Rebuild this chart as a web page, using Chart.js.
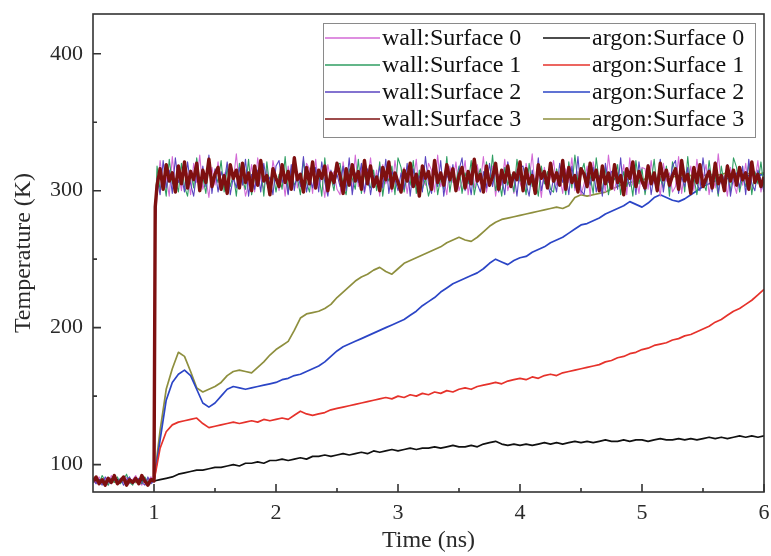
<!DOCTYPE html>
<html>
<head>
<meta charset="utf-8">
<title>Temperature vs Time</title>
<script src="https://cdn.jsdelivr.net/npm/chart.js@4.4.1/dist/chart.umd.min.js"></script>
<style>
  html, body { margin: 0; padding: 0; background: #fff; }
  #chart { display: block; }
</style>
</head>
<body>
<canvas id="chart" width="771" height="556" style="width:771px;height:556px"></canvas>
<script>
// Time axis for the wall thermostat traces (ns)
const wallTime = [
  0.5,0.525,0.55,0.575,0.6,0.625,0.65,0.675,0.7,0.725,0.75,0.775,0.8,0.825,0.85,0.875,0.9,0.925,0.95,0.975,1.0,
  1.01,
  1.025,1.05,1.075,1.1,1.125,1.15,1.175,1.2,1.225,1.25,1.275,1.3,1.325,1.35,1.375,1.4,1.425,1.45,1.475,1.5,
  1.525,1.55,1.575,1.6,1.625,1.65,1.675,1.7,1.725,1.75,1.775,1.8,1.825,1.85,1.875,1.9,1.925,1.95,1.975,2.0,
  2.025,2.05,2.075,2.1,2.125,2.15,2.175,2.2,2.225,2.25,2.275,2.3,2.325,2.35,2.375,2.4,2.425,2.45,2.475,2.5,
  2.525,2.55,2.575,2.6,2.625,2.65,2.675,2.7,2.725,2.75,2.775,2.8,2.825,2.85,2.875,2.9,2.925,2.95,2.975,3.0,
  3.025,3.05,3.075,3.1,3.125,3.15,3.175,3.2,3.225,3.25,3.275,3.3,3.325,3.35,3.375,3.4,3.425,3.45,3.475,3.5,
  3.525,3.55,3.575,3.6,3.625,3.65,3.675,3.7,3.725,3.75,3.775,3.8,3.825,3.85,3.875,3.9,3.925,3.95,3.975,4.0,
  4.025,4.05,4.075,4.1,4.125,4.15,4.175,4.2,4.225,4.25,4.275,4.3,4.325,4.35,4.375,4.4,4.425,4.45,4.475,4.5,
  4.525,4.55,4.575,4.6,4.625,4.65,4.675,4.7,4.725,4.75,4.775,4.8,4.825,4.85,4.875,4.9,4.925,4.95,4.975,5.0,
  5.025,5.05,5.075,5.1,5.125,5.15,5.175,5.2,5.225,5.25,5.275,5.3,5.325,5.35,5.375,5.4,5.425,5.45,5.475,5.5,
  5.525,5.55,5.575,5.6,5.625,5.65,5.675,5.7,5.725,5.75,5.775,5.8,5.825,5.85,5.875,5.9,5.925,5.95,5.975,6.0
];

// Wall surface temperatures (K)
const wall0 = [
  89,86,91,87,90,85,92,88,86,90,87,91,86,89,92,87,85,90,88,91,88,
  275,
  298,322,305,310,296,325,303,314,300,318, 312,297,320,306,326,301,309,295,317,304,
  321,300,313,298,315,307,327,302,311,296, 305,319,299,324,308,301,316,297,322,310,
  300,314,296,318,305,325,302,311,299,320, 316,298,323,304,310,295,319,307,314,301,
  297,321,306,312,300,326,303,317,298,309, 324,302,315,296,319,305,311,299,322,306,
  301,317,298,313,307,323,296,310,304,320, 315,299,326,303,309,297,318,306,321,300,
  307,322,297,314,302,319,305,325,299,311, 318,296,312,304,323,300,309,298,316,306,
  299,320,307,327,301,313,295,317,303,310, 322,304,311,298,316,306,324,300,314,297,
  305,318,296,321,309,302,315,299,326,307, 300,313,306,319,297,324,304,311,298,317,
  316,301,322,305,310,296,320,307,313,299, 303,325,298,314,306,318,300,323,304,309,
  319,297,312,302,327,305,311,296,317,306, 298,315,304,320,300,313,307,322,299,311
];
const wall1 = [
  87,90,86,92,88,85,90,87,91,86,89,93,87,85,90,88,86,91,87,89,88,
  282,
  318,300,311,296,323,305,309,299,320,303, 296,315,302,324,307,310,298,319,305,313,
  306,322,299,317,303,312,296,320,308,301, 323,297,310,305,318,296,321,302,314,299,
  312,301,325,298,316,304,309,297,322,306, 299,318,305,313,296,324,302,310,300,319,
  320,304,297,316,309,301,323,298,312,305, 302,315,300,321,296,313,307,318,297,324,
  317,299,312,304,322,298,315,301,309,296, 305,320,297,310,301,325,299,314,306,318,
  298,313,305,322,297,309,316,300,321,303, 326,300,310,296,317,304,312,299,323,307,
  311,297,320,303,309,296,318,305,314,301, 299,316,304,312,297,321,302,326,306,313,
  320,302,311,298,324,306,300,317,297,310, 308,319,297,314,303,311,296,322,305,316,
  297,312,306,323,299,309,302,318,296,321, 313,304,317,299,325,301,310,297,315,306,
  300,322,305,311,296,318,304,313,299,324, 317,299,310,303,320,297,314,305,321,302
];
const wall2 = [
  90,86,89,85,91,88,86,92,87,90,85,89,91,86,88,90,87,85,91,86,88,
  270,
  309,297,322,302,315,298,324,306,311,299, 321,305,296,313,300,318,303,326,298,316,
  299,314,306,321,297,310,302,317,304,323, 296,312,301,315,299,320,305,310,297,318,
  322,306,311,297,319,300,314,303,325,299, 310,302,317,299,321,306,296,315,304,312,
  303,318,300,324,297,313,306,320,299,316, 297,311,305,318,302,323,298,314,308,300,
  313,301,320,296,316,304,311,299,325,305, 298,317,303,322,296,312,306,319,300,315,
  324,300,311,297,318,305,299,314,302,320, 303,316,299,310,297,321,306,313,296,317,
  318,305,296,315,302,324,300,311,305,297, 309,299,320,306,313,297,318,302,325,300,
  297,313,304,317,299,311,296,320,306,314, 315,301,324,298,310,303,316,297,321,305,
  300,319,297,312,306,323,299,314,302,318, 322,298,310,303,317,297,313,305,300,324,
  305,316,299,321,298,312,307,319,296,310, 313,302,318,297,323,305,300,315,308,299
];
const wall3 = [
  88,91,86,89,85,90,87,92,86,88,91,85,89,87,90,86,92,88,85,89,88,
  288,
  304,316,301,319,307,313,299,318,305,321, 302,314,308,320,300,315,306,323,303,312,
  317,301,311,298,319,309,315,302,320,306, 313,300,318,304,322,307,311,297,316,309,
  303,319,306,314,301,324,308,312,299,317, 305,321,302,315,309,318,300,313,306,320,
  311,298,316,304,319,307,314,301,322,305, 318,303,310,300,317,308,321,302,313,306,
  299,315,307,320,303,312,296,318,309,314, 301,322,306,313,304,319,308,316,300,311,
  317,302,314,305,323,307,312,299,318,304, 310,320,301,315,306,318,303,313,308,321,
  300,316,305,311,298,319,309,314,302,320, 307,313,304,322,301,317,306,311,299,316,
  312,303,320,308,315,300,318,305,313,302, 319,306,311,297,316,309,321,303,314,307,
  302,318,305,313,300,320,308,315,304,311, 316,301,322,307,312,298,317,306,319,303,
  309,314,302,320,305,311,300,318,307,315, 304,317,308,313,301,321,306,312,303,310
];

// Time axis for the argon layer traces (ns)
const argonTime = [
  0.5,0.55,0.6,0.65,0.7,0.75,0.8,0.85,0.9,0.95,1.0,
  1.05,1.1,1.15,1.2,1.25,1.3,1.35,1.4,1.45,1.5,1.55,1.6,1.65,1.7,1.75,1.8,1.85,1.9,1.95,2.0,
  2.05,2.1,2.15,2.2,2.25,2.3,2.35,2.4,2.45,2.5,2.55,2.6,2.65,2.7,2.75,2.8,2.85,2.9,2.95,3.0,
  3.05,3.1,3.15,3.2,3.25,3.3,3.35,3.4,3.45,3.5,3.55,3.6,3.65,3.7,3.75,3.8,3.85,3.9,3.95,4.0,
  4.05,4.1,4.15,4.2,4.25,4.3,4.35,4.4,4.45,4.5,4.55,4.6,4.65,4.7,4.75,4.8,4.85,4.9,4.95,5.0,
  5.05,5.1,5.15,5.2,5.25,5.3,5.35,5.4,5.45,5.5,5.55,5.6,5.65,5.7,5.75,5.8,5.85,5.9,5.95,6.0
];

// Argon temperatures per surface (K)
const argon0 = [
  88,89,87,88,89,88,87,89,88,87,88,
  89,90,91,93,94,95,96,96,97,98, 98,99,100,99,101,101,102,101,103,103,
  104,103,104,105,104,106,106,107,106,107, 108,107,108,109,108,110,109,110,111,110,
  111,112,111,112,112,113,112,113,114,113, 113,114,113,115,116,117,115,114,115,114,
  115,114,115,116,115,116,115,116,117,116, 117,116,117,118,117,117,118,117,118,118,
  117,118,119,118,118,119,118,119,118,119, 120,119,120,119,120,121,120,121,120,121
];
const argon1 = [
  88,87,89,88,87,88,89,88,87,88,88,
  112,124,129,131,132,133,134,130,127,128, 129,130,131,130,131,132,131,133,132,133,
  134,133,136,139,137,136,137,138,140,141, 142,143,144,145,146,147,148,149,148,150,
  149,151,150,152,151,153,152,154,153,155, 156,155,157,158,159,160,159,161,162,163,
  162,164,163,165,166,165,167,168,169,170, 171,172,173,175,176,178,179,181,182,184,
  185,187,188,189,191,192,194,195,197,199, 201,204,206,209,212,214,217,220,224,228
];
const argon2 = [
  89,88,87,88,89,87,88,88,89,87,88,
  118,147,160,166,169,165,155,145,142,145, 150,155,157,156,155,156,157,158,159,160,
  162,163,165,166,168,170,172,175,179,183, 186,188,190,192,194,196,198,200,202,204,
  206,209,212,216,219,222,226,229,232,234, 236,238,240,243,247,250,248,246,249,251,
  252,255,257,259,262,264,266,269,272,275, 276,278,280,283,285,287,289,292,290,288,
  291,295,297,295,293,292,294,297,300,303, 305,307,308,309,310,311,310,312,311,312
];
const argon3 = [
  87,88,89,88,87,89,88,87,88,89,88,
  125,155,170,182,179,168,156,153,155,157, 160,165,168,169,168,167,171,175,180,184,
  187,190,198,207,210,211,212,214,217,222, 226,230,234,237,239,242,244,241,239,243,
  247,249,251,253,255,257,259,262,264,266, 264,263,266,270,274,277,279,280,281,282,
  283,284,285,286,287,288,287,289,295,297, 296,297,298,299,301,303,305,306,307,308,
  309,308,310,311,310,311,312,311,312,311, 312,311,312,313,312,311,312,313,312,313
];

const seriesLabels = [
  'wall:Surface 0', 'wall:Surface 1', 'wall:Surface 2', 'wall:Surface 3',
  'argon:Surface 0', 'argon:Surface 1', 'argon:Surface 2', 'argon:Surface 3'
];

// Axis ticks
const xTicks = [1, 2, 3, 4, 5, 6];
const xMinorTicks = [1.5, 2.5, 3.5, 4.5, 5.5];
const yTicks = [100, 200, 300, 400];
const yMinorTicks = [150, 250, 350];

// Line styles per series, same order as the labels
const seriesColors = ['#d36ad6', '#2f9e62', '#5a44c0', '#7e1010', '#111111', '#e6322b', '#2b45c6', '#8e8f3e'];
const seriesWidths = [1.1, 1.1, 1.1, 3.4, 1.7, 1.7, 1.7, 1.7];
// wall traces sit on top, wall 3 uppermost
const seriesOrder = [3, 2, 1, 0, 4, 5, 6, 7];

const serifFont = '"Liberation Serif", "Times New Roman", Times, serif';
const inkColor = '#2a2a2a';

function toPoints(times, temps) {
  return times.map((t, i) => ({ x: t, y: temps[i] }));
}

const seriesData = [
  toPoints(wallTime, wall0), toPoints(wallTime, wall1), toPoints(wallTime, wall2), toPoints(wallTime, wall3),
  toPoints(argonTime, argon0), toPoints(argonTime, argon1), toPoints(argonTime, argon2), toPoints(argonTime, argon3)
];

const datasets = seriesLabels.map((label, i) => ({
  label: label,
  data: seriesData[i],
  borderColor: seriesColors[i],
  backgroundColor: seriesColors[i],
  borderWidth: seriesWidths[i],
  borderJoinStyle: 'round',
  order: seriesOrder[i],
  pointRadius: 0,
  tension: 0,
  fill: false
}));

// Box frame with inward ticks on the bottom and left axes
const frameTicks = {
  id: 'frameTicks',
  afterDatasetsDraw(chart) {
    const { ctx, chartArea: a, scales } = chart;
    ctx.save();
    ctx.strokeStyle = '#333';
    ctx.lineWidth = 1.6;
    ctx.strokeRect(a.left, a.top, a.right - a.left, a.bottom - a.top);

    ctx.beginPath();
    xTicks.forEach(v => {
      const px = scales.x.getPixelForValue(v);
      ctx.moveTo(px, a.bottom);
      ctx.lineTo(px, a.bottom - 8);
    });
    xMinorTicks.forEach(v => {
      const px = scales.x.getPixelForValue(v);
      ctx.moveTo(px, a.bottom);
      ctx.lineTo(px, a.bottom - 4);
    });
    yTicks.forEach(v => {
      const py = scales.y.getPixelForValue(v);
      ctx.moveTo(a.left, py);
      ctx.lineTo(a.left + 8, py);
    });
    yMinorTicks.forEach(v => {
      const py = scales.y.getPixelForValue(v);
      ctx.moveTo(a.left, py);
      ctx.lineTo(a.left + 4, py);
    });
    ctx.stroke();
    ctx.restore();
  }
};

// Two-column legend inside the plot, top right
const boxLegend = {
  id: 'boxLegend',
  afterDraw(chart) {
    const { ctx, chartArea: a } = chart;
    const boxLeft = a.right - 441;
    const boxTop = a.top + 9;
    const boxW = 432;
    const boxH = 114;
    const rowGap = 27;
    const columns = [
      { line0: boxLeft + 2, line1: boxLeft + 57, text: boxLeft + 59 },
      { line0: boxLeft + 220, line1: boxLeft + 267, text: boxLeft + 269 }
    ];

    ctx.save();
    ctx.fillStyle = '#fff';
    ctx.fillRect(boxLeft, boxTop, boxW, boxH);
    ctx.strokeStyle = '#8a8a8a';
    ctx.lineWidth = 1;
    ctx.strokeRect(boxLeft + 0.5, boxTop + 0.5, boxW, boxH);

    ctx.font = '24px ' + serifFont;
    ctx.textAlign = 'left';
    ctx.textBaseline = 'middle';
    chart.data.datasets.forEach((ds, i) => {
      const col = columns[i < 4 ? 0 : 1];
      const y = boxTop + 15 + (i % 4) * rowGap;
      ctx.strokeStyle = ds.borderColor;
      ctx.lineWidth = 1.3;
      ctx.beginPath();
      ctx.moveTo(col.line0, y);
      ctx.lineTo(col.line1, y);
      ctx.stroke();
      ctx.fillStyle = '#111';
      ctx.fillText(ds.label, col.text, y + 1);
    });
    ctx.restore();
  }
};

const ctx = document.getElementById('chart').getContext('2d');
const chart = new Chart(ctx, {
  type: 'line',
  data: { datasets: datasets },
  options: {
    responsive: false,
    animation: false,
    events: [],
    layout: { padding: { top: 14, right: 7, left: 0, bottom: 0 } },
    plugins: {
      legend: { display: false },
      tooltip: { enabled: false }
    },
    scales: {
      x: {
        type: 'linear',
        min: 0.5,
        max: 6,
        afterBuildTicks: scale => { scale.ticks = xTicks.map(v => ({ value: v })); },
        afterFit: scale => {
          scale.height = 64;
          scale.paddingLeft = 0;
          scale.paddingRight = 0;
        },
        grid: { display: false, drawTicks: false },
        border: { display: false },
        ticks: {
          padding: 8,
          color: inkColor,
          font: { family: serifFont, size: 22 }
        },
        title: {
          display: true,
          text: 'Time (ns)',
          color: inkColor,
          padding: { top: 0, bottom: 1 },
          font: { family: serifFont, size: 24 }
        }
      },
      y: {
        type: 'linear',
        min: 80,
        max: 429,
        afterBuildTicks: scale => { scale.ticks = yTicks.map(v => ({ value: v })); },
        afterFit: scale => {
          scale.width = 93;
          scale.paddingTop = 0;
          scale.paddingBottom = 0;
        },
        grid: { display: false, drawTicks: false },
        border: { display: false },
        ticks: {
          padding: 10,
          color: inkColor,
          font: { family: serifFont, size: 22 }
        },
        title: {
          display: true,
          text: 'Temperature (K)',
          color: inkColor,
          padding: { top: 9, bottom: 0 },
          font: { family: serifFont, size: 24 }
        }
      }
    }
  },
  plugins: [frameTicks, boxLegend]
});
</script>
</body>
</html>
